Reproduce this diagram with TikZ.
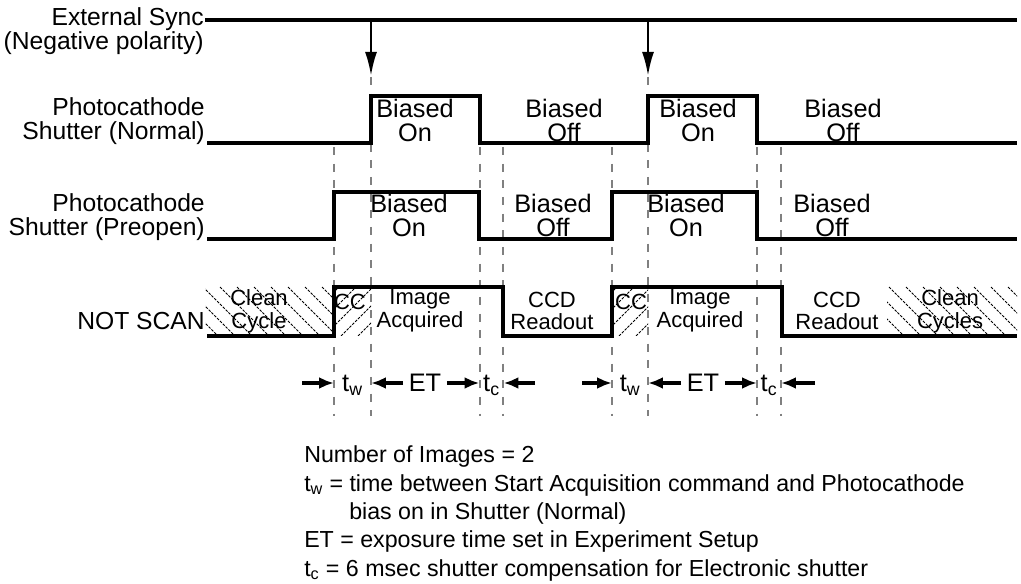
\documentclass[tikz,border=0pt]{standalone}
\usepackage{fontspec}
\setmainfont{Liberation Sans}
\usetikzlibrary{arrows.meta}

\begin{document}
\begin{tikzpicture}[x=0.75pt, y=-0.75pt,
  sig/.style={line width=2.3pt, line join=miter},
  guide/.style={gray, line width=0.9pt, dash pattern=on 6pt off 6.5pt},
  hatch/.style={line width=0.7pt, dash pattern=on 2pt off 1pt},
  side/.style={inner sep=0pt, align=right, anchor=east, font=\fontsize{18.5}{17.5}\selectfont},
  lbl/.style={inner sep=0pt, align=center, font=\fontsize{19}{18}\selectfont},
  inlbl/.style={inner sep=0pt, align=center, font=\fontsize{16.5}{17}\selectfont},
  tlbl/.style={inner sep=0pt, text height=16.5pt, text depth=3pt, font=\fontsize{19}{18}\selectfont},
  note/.style={inner sep=0pt, anchor=west, text height=13pt, text depth=4pt, font=\fontsize{17.4}{18}\selectfont},
  tarr/.style={-{Latex[length=11pt,width=9pt]}, line width=2.4pt},
  sarr/.style={-{Latex[length=18pt,width=9pt]}, line width=1.9pt}]

  \useasboundingbox (0,0) rectangle (1021,584);

  % guide lines
  \draw[guide] (334,147) -- (334,416);
  \draw[guide] (371,77) -- (371,416);
  \draw[guide] (480,147) -- (480,416);
  \draw[guide] (503,147) -- (503,416);
  \draw[guide] (612,147) -- (612,416);
  \draw[guide] (648,77) -- (648,416);
  \draw[guide] (757,147) -- (757,416);
  \draw[guide] (781,147) -- (781,416);

  % hatched cycles
  \begin{scope}
    \clip (205,287) rectangle (334,336);
    \foreach \hx in {152,169,...,340} \draw[hatch] (\hx,287) -- ++(49,49);
  \end{scope}
  \begin{scope}
    \clip (334,287) rectangle (371,336);
    \foreach \hx in {290,307,...,380} \draw[hatch] (\hx,336) -- ++(49,-49);
  \end{scope}
  \begin{scope}
    \clip (612,287) rectangle (648,336);
    \foreach \hx in {568,585,...,658} \draw[hatch] (\hx,336) -- ++(49,-49);
  \end{scope}
  \begin{scope}
    \clip (887,287) rectangle (1017,336);
    \foreach \hx in {838,855,...,1020} \draw[hatch] (\hx,287) -- ++(49,49);
  \end{scope}

  % external sync
  \node[side] (sync) at (204,31) {External Sync\\(Negative polarity)};
  \draw[sig] (205,20) -- (1017,20);
  \coordinate (s1) at (371,20);
  \coordinate (s1tip) at (371,76);
  \coordinate (s2) at (648,20);
  \coordinate (s2tip) at (648,76);
  \draw[sarr] (s1) -- (s1tip);
  \draw[sarr] (s2) -- (s2tip);

  % shutter normal
  \node[side] (normal) at (205,121) {Photocathode\\Shutter (Normal)};
  \draw[sig] (207,143) -- (371,143) -- (371,96) -- (480,96) -- (480,143) -- (648,143)
    -- (648,96) -- (757,96) -- (757,143) -- (1017,143);
  \node[lbl] (non1) at (415,120) {Biased\\On};
  \node[lbl] (noff1) at (564,120) {Biased\\Off};
  \node[lbl] (non2) at (698,120) {Biased\\On};
  \node[lbl] (noff2) at (843,120) {Biased\\Off};

  % shutter preopen
  \node[side] (preopen) at (205,217) {Photocathode\\Shutter (Preopen)};
  \draw[sig] (207,239) -- (334,239) -- (334,192) -- (479,192) -- (479,239) -- (612,239)
    -- (612,192) -- (757,192) -- (757,239) -- (1017,239);
  \node[lbl] (pon1) at (409,215) {Biased\\On};
  \node[lbl] (poff1) at (553,215) {Biased\\Off};
  \node[lbl] (pon2) at (686,215) {Biased\\On};
  \node[lbl] (poff2) at (832,215) {Biased\\Off};

  % not scan
  \node[side] (notscan) at (205,321) {NOT SCAN};
  \draw[sig] (207,336) -- (334,336) -- (334,287) -- (503,287) -- (503,336) -- (612,336)
    -- (612,287) -- (782,287) -- (782,336) -- (1017,336);
  \node[inlbl] (clean1) at (259,311) {Clean\\Cycle};
  \node[inlbl] (cc1) at (350,302) {CC};
  \node[inlbl] (img1) at (420,311) {Image\\Acquired};
  \node[inlbl] (ccd1) at (552,311) {CCD\\Readout};
  \node[inlbl] (cc2) at (631,302) {CC};
  \node[inlbl] (img2) at (700,311) {Image\\Acquired};
  \node[inlbl] (ccd2) at (837,311) {CCD\\Readout};
  \node[inlbl] (clean2) at (950,311) {Clean\\Cycles};

  % timing intervals
  \node[tlbl, minimum width=27.75pt] (tw1) at (352.5,383) {t\textsubscript{w}};
  \node[tlbl, inner xsep=4pt] (et1) at (425,383) {ET};
  \node[tlbl, minimum width=18pt] (tc1) at (491.5,383) {t\textsubscript{c}};
  \coordinate (tw1in) at (302,383);
  \coordinate (tc1in) at (535,383);
  \draw[tarr] (tw1in) -- (tw1.west);
  \draw[tarr] (et1.west) -- (tw1.east);
  \draw[tarr] (et1.east) -- (tc1.west);
  \draw[tarr] (tc1in) -- (tc1.east);
  \node[tlbl, minimum width=27pt] (tw2) at (630,383) {t\textsubscript{w}};
  \node[tlbl, inner xsep=4pt] (et2) at (703,383) {ET};
  \node[tlbl, minimum width=18pt] (tc2) at (769,383) {t\textsubscript{c}};
  \coordinate (tw2in) at (582,383);
  \coordinate (tc2in) at (815,383);
  \draw[tarr] (tw2in) -- (tw2.west);
  \draw[tarr] (et2.west) -- (tw2.east);
  \draw[tarr] (et2.east) -- (tc2.west);
  \draw[tarr] (tc2in) -- (tc2.east);

  % notes
  \node[note] (nimg) at (304,457) {Number of Images = 2};
  \node[note] (ntw) at (304,485) {t\textsubscript{w} = time between Start Acquisition command and Photocathode};
  \node[note] (nbias) at (349,513) {bias on in Shutter (Normal)};
  \node[note] (net) at (304,541) {ET = exposure time set in Experiment Setup};
  \node[note] (ntc) at (304,570) {t\textsubscript{c} = 6 msec shutter compensation for Electronic shutter};
\end{tikzpicture}
\end{document}
